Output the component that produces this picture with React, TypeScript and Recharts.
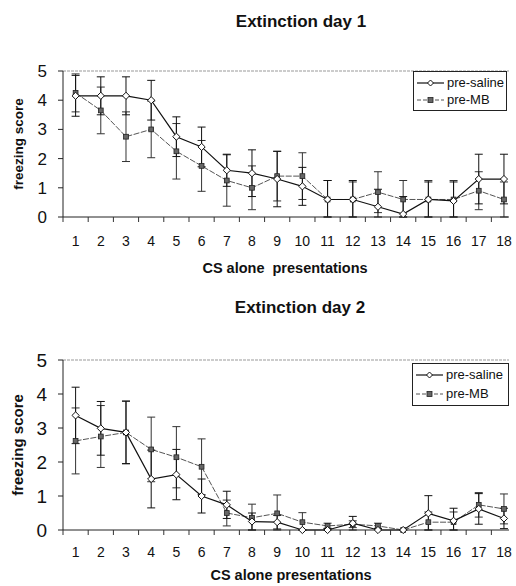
import React from 'react';
import { LineChart, Line, XAxis, YAxis, ErrorBar, ReferenceLine } from 'recharts';

const sessions = [1, 2, 3, 4, 5, 6, 7, 8, 9, 10, 11, 12, 13, 14, 15, 16, 17, 18];
const yTicks = [0, 1, 2, 3, 4, 5];

const day1Saline = [4.15, 4.15, 4.15, 4.0, 2.75, 2.4, 1.6, 1.5, 1.3, 1.05, 0.6, 0.6, 0.35, 0.1, 0.6, 0.55, 1.3, 1.3];
const day1SalineErr = [0.7, 0.65, 0.65, 0.68, 0.68, 0.68, 0.55, 0.8, 0.95, 0.65, 0.65, 0.65, 0.6, 0.6, 0.6, 0.65, 0.85, 0.85];
const day1MB = [4.25, 3.65, 2.75, 3.0, 2.25, 1.75, 1.25, 1.0, 1.4, 1.4, 0.6, 0.6, 0.85, 0.6, 0.6, 0.6, 0.9, 0.6];
const day1MBErr = [0.65, 0.8, 0.85, 0.97, 0.95, 0.87, 0.88, 0.75, 0.85, 0.8, 0.65, 0.6, 0.7, 0.65, 0.65, 0.65, 0.65, 0.6];

const day2Saline = [3.37, 2.99, 2.87, 1.5, 1.63, 1.0, 0.74, 0.25, 0.23, 0, 0, 0.2, 0, 0, 0.49, 0.27, 0.62, 0.34];
const day2SalineErr = [0.83, 0.79, 0.92, 0.85, 0.74, 0.5, 0.4, 0.25, 0.2, 0, 0.05, 0.2, 0.05, 0, 0.52, 0.37, 0.45, 0.3];
const day2MB = [2.62, 2.75, 2.87, 2.37, 2.14, 1.86, 0.5, 0.36, 0.49, 0.23, 0.12, 0.17, 0.12, 0, 0.23, 0.23, 0.74, 0.62];
const day2MBErr = [0.97, 0.91, 0.92, 0.95, 0.9, 0.82, 0.38, 0.4, 0.54, 0.28, 0.08, 0.1, 0.08, 0, 0.3, 0.3, 0.36, 0.44];

const FONT = "Arial, 'Liberation Sans', sans-serif";

const buildData = (sal: number[], salErr: number[], mb: number[], mbErr: number[]) =>
  sessions.map((s, i) => ({
    session: s,
    saline: sal[i],
    salineErr: [Math.min(salErr[i], sal[i]), salErr[i]],
    mb: mb[i],
    mbErr: [Math.min(mbErr[i], mb[i]), mbErr[i]],
  }));

const data1 = buildData(day1Saline, day1SalineErr, day1MB, day1MBErr);
const data2 = buildData(day2Saline, day2SalineErr, day2MB, day2MBErr);

const xTicks = [...sessions.map((s) => s - 0.5), ...sessions].sort((a, b) => a - b);

const makeXTick = (labelOffset: number) => (props: any) => {
  const { x, y, payload } = props;
  const v = payload.value;
  if (Number.isInteger(v)) {
    return (
      <text x={x} y={y + labelOffset} textAnchor="middle" fontSize={14} fill="#111" fontFamily={FONT}>
        {v}
      </text>
    );
  }
  return <line x1={x} x2={x} y1={y} y2={y + 5} stroke="#333" strokeWidth={1} />;
};

const DiamondDot = (props: any) => {
  const { cx, cy, index } = props;
  if (cx == null || cy == null) return <g key={`d-${index}`} />;
  const r = 3.6;
  return (
    <polygon
      key={`d-${index}`}
      points={`${cx},${cy - r} ${cx + r},${cy} ${cx},${cy + r} ${cx - r},${cy}`}
      fill="#fff"
      stroke="#111"
      strokeWidth={1}
    />
  );
};

const SquareDot = (props: any) => {
  const { cx, cy, index } = props;
  if (cx == null || cy == null) return <g key={`s-${index}`} />;
  const h = 2.4;
  return <rect key={`s-${index}`} x={cx - h} y={cy - h} width={h * 2} height={h * 2} fill="#666" stroke="#222" strokeWidth={0.8} />;
};

const LegendBox = ({ left, top, width, height }: { left: number; top: number; width: number; height: number }) => (
  <div
    style={{
      position: 'absolute',
      left,
      top,
      width,
      height,
      boxSizing: 'border-box',
      border: '1px solid #222',
      background: '#fff',
      padding: '2px 0 0 3px',
      fontFamily: FONT,
      fontSize: 13,
      color: '#111',
      lineHeight: `${(height - 6) / 2}px`,
      whiteSpace: 'nowrap',
    }}
  >
    <div style={{ display: 'flex', alignItems: 'center' }}>
      <svg width={27} height={10} style={{ marginRight: 3 }}>
        <line x1={0} x2={27} y1={5} y2={5} stroke="#111" strokeWidth={1.2} />
        <polygon points="13.5,2 16.5,5 13.5,8 10.5,5" fill="#fff" stroke="#111" strokeWidth={1} />
      </svg>
      <span>pre-saline</span>
    </div>
    <div style={{ display: 'flex', alignItems: 'center' }}>
      <svg width={27} height={10} style={{ marginRight: 3 }}>
        <line x1={0} x2={27} y1={5} y2={5} stroke="#555" strokeWidth={1} strokeDasharray="4 2" />
        <rect x={11} y={2.5} width={5} height={5} fill="#666" stroke="#222" strokeWidth={0.8} />
      </svg>
      <span>pre-MB</span>
    </div>
  </div>
);

type PanelProps = {
  data: any[];
  height: number;
  marginTop: number;
  xAxisHeight: number;
  labelOffset: number;
  yFont: number;
  yLabelFont: number;
};

const Panel = ({ data, height, marginTop, xAxisHeight, labelOffset, yFont, yLabelFont }: PanelProps) => (
  <LineChart width={516} height={height} data={data} margin={{ top: marginTop, right: 7, left: 0, bottom: 0 }}>
    <XAxis
      dataKey="session"
      type="number"
      domain={[0.5, 18.2]}
      ticks={xTicks}
      interval={0}
      tickLine={false}
      tickSize={0}
      tickMargin={0}
      height={xAxisHeight}
      axisLine={{ stroke: '#222', strokeWidth: 1 }}
      tick={makeXTick(labelOffset)}
      allowDecimals
    />
    <YAxis
      type="number"
      domain={[0, 5]}
      ticks={yTicks}
      interval={0}
      width={63}
      tickSize={5}
      tickMargin={11}
      axisLine={{ stroke: '#222', strokeWidth: 1 }}
      tickLine={{ stroke: '#222' }}
      tick={{ fontSize: yFont, fill: '#111', fontFamily: FONT }}
      label={{
        value: 'freezing score',
        angle: -90,
        position: 'insideLeft',
        offset: 18,
        style: { textAnchor: 'middle', fontSize: yLabelFont, fontWeight: 'bold', fill: '#111', fontFamily: FONT },
      }}
    />
    <ReferenceLine y={5} stroke="#999" strokeWidth={1} strokeDasharray="3 1" />
    <Line
      dataKey="mb"
      name="pre-MB"
      stroke="#555"
      strokeWidth={1}
      strokeDasharray="6 1.5"
      isAnimationActive={false}
      dot={SquareDot}
      activeDot={false}
    >
      <ErrorBar dataKey="mbErr" width={4} stroke="#333" strokeWidth={1} direction="y" />
    </Line>
    <Line
      dataKey="saline"
      name="pre-saline"
      stroke="#111"
      strokeWidth={1.2}
      isAnimationActive={false}
      dot={DiamondDot}
      activeDot={false}
    >
      <ErrorBar dataKey="salineErr" width={4} stroke="#111" strokeWidth={1} direction="y" />
    </Line>
  </LineChart>
);

const textStyle = (centerX: number, top: number, fontSize: number, lineHeight: number): React.CSSProperties => ({
  position: 'absolute',
  left: centerX - 150,
  width: 300,
  top,
  textAlign: 'center',
  fontFamily: FONT,
  fontWeight: 'bold',
  fontSize,
  lineHeight: `${lineHeight}px`,
  color: '#111',
  whiteSpace: 'pre',
});

export default function App() {
  return (
    <div style={{ position: 'absolute', left: 0, top: 0, width: 516, height: 586, background: '#fff', overflow: 'hidden' }}>
      <div style={{ position: 'absolute', left: 0, top: 0 }}>
        <Panel data={data1} height={300} marginTop={71} xAxisHeight={83} labelOffset={29} yFont={17} yLabelFont={13.5} />
      </div>
      <div style={{ position: 'absolute', left: 0, top: 300 }}>
        <Panel data={data2} height={286} marginTop={60} xAxisHeight={56} labelOffset={27} yFont={19} yLabelFont={15} />
      </div>
      <LegendBox left={413} top={71} width={94} height={40} />
      <LegendBox left={412} top={363} width={97} height={43} />
      <div style={textStyle(301, 12, 17, 20)}>Extinction day 1</div>
      <div style={textStyle(285, 259, 14.5, 18)}>{'CS alone  presentations'}</div>
      <div style={textStyle(300, 298, 17, 20)}>Extinction day 2</div>
      <div style={textStyle(291, 566, 14.5, 18)}>CS alone presentations</div>
    </div>
  );
}
